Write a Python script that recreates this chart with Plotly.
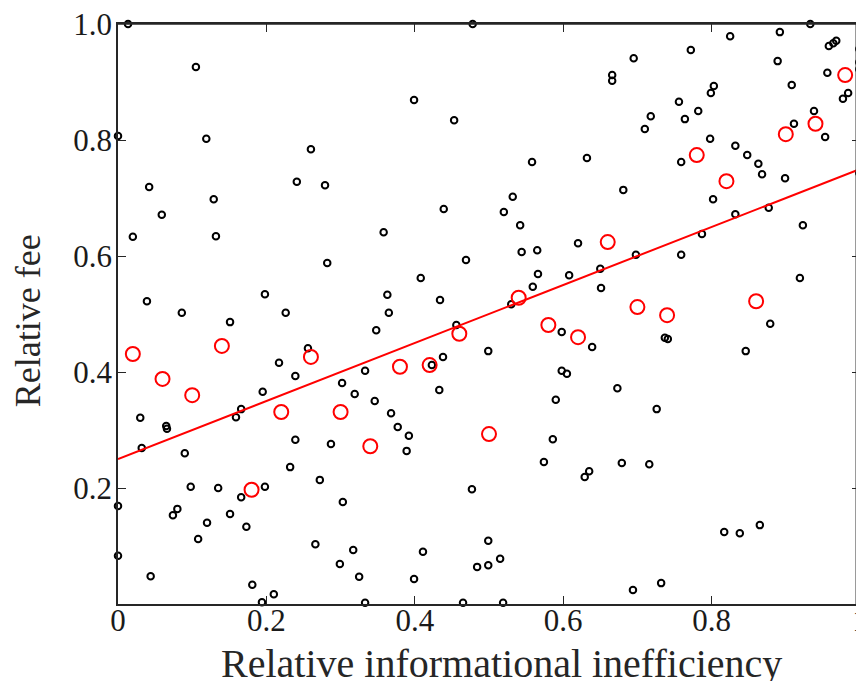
import plotly.graph_objects as go

# Individual observations (black hollow dots)
obs_x = [0.0135, 0.105, 0.0, 0.119, 0.042, 0.129, 0.241, 0.059, 0.020, 0.132,
         0.039, 0.086, 0.198, 0.226, 0.151, 0.217, 0.239, 0.195, 0.166, 0.030,
         0.065, 0.066, 0.032, 0.090, 0.159, 0.239, 0.232, 0.098, 0.135, 0.198,
         0.0, 0.080, 0.074, 0.166, 0.151, 0.120, 0.173, 0.108, 0.0, 0.044,
         0.181, 0.210, 0.194, 0.478, 0.399, 0.453, 0.260, 0.279, 0.439, 0.358,
         0.282, 0.469, 0.408, 0.363, 0.434, 0.365, 0.348, 0.456, 0.256, 0.499,
         0.438, 0.423, 0.333, 0.302, 0.319, 0.346, 0.433, 0.368, 0.377, 0.392,
         0.287, 0.389, 0.272, 0.303, 0.477, 0.266, 0.317, 0.411, 0.499, 0.299,
         0.484, 0.499, 0.325, 0.399, 0.333, 0.465, 0.695, 0.666, 0.666, 0.756,
         0.718, 0.710, 0.764, 0.558, 0.632, 0.759, 0.532, 0.681, 0.520, 0.933,
         0.825, 0.892, 0.772, 0.958, 0.964, 0.968, 0.999, 0.889, 0.999, 0.999,
         0.956, 0.908, 0.803, 0.799, 0.984, 0.977, 0.782, 0.938, 0.911, 0.798,
         0.953, 0.832, 0.848, 0.863, 0.868, 0.899, 0.999, 0.802, 0.877, 0.832,
         0.542, 0.620, 0.544, 0.565, 0.698, 0.759, 0.566, 0.608, 0.650, 0.559,
         0.651, 0.530, 0.598, 0.737, 0.741, 0.639, 0.598, 0.605, 0.673, 0.590,
         0.726, 0.923, 0.787, 0.919, 0.879, 0.846, 0.586, 0.574, 0.629, 0.635,
         0.679, 0.716, 0.515, 0.694, 0.732, 0.519, 0.817, 0.838, 0.865]
obs_y = [1.0, 0.926, 0.807, 0.802, 0.719, 0.698, 0.728, 0.671, 0.633, 0.634,
         0.522, 0.502, 0.534, 0.502, 0.486, 0.416, 0.393, 0.366, 0.336, 0.321,
         0.307, 0.302, 0.269, 0.260, 0.322, 0.283, 0.236, 0.202, 0.200, 0.202,
         0.169, 0.164, 0.153, 0.184, 0.155, 0.140, 0.133, 0.112, 0.083, 0.048,
         0.033, 0.017, 0.003, 1.0, 0.869, 0.834, 0.784, 0.722, 0.681, 0.641,
         0.588, 0.593, 0.562, 0.533, 0.524, 0.502, 0.472, 0.481, 0.441, 0.436,
         0.426, 0.412, 0.402, 0.381, 0.362, 0.350, 0.369, 0.329, 0.305, 0.290,
         0.276, 0.264, 0.214, 0.176, 0.198, 0.103, 0.093, 0.090, 0.109, 0.069,
         0.064, 0.067, 0.047, 0.043, 0.002, 0.002, 0.941, 0.912, 0.902, 0.866,
         0.841, 0.819, 0.836, 0.762, 0.769, 0.762, 0.702, 0.714, 0.676, 1.0,
         0.979, 0.986, 0.955, 0.962, 0.967, 0.971, 0.957, 0.936, 0.934, 0.922,
         0.916, 0.895, 0.893, 0.881, 0.881, 0.871, 0.850, 0.850, 0.828, 0.802,
         0.805, 0.790, 0.774, 0.759, 0.741, 0.734, 0.743, 0.698, 0.683, 0.672,
         0.653, 0.622, 0.607, 0.610, 0.602, 0.602, 0.569, 0.567, 0.578, 0.547,
         0.545, 0.517, 0.469, 0.459, 0.457, 0.443, 0.402, 0.397, 0.372, 0.352,
         0.336, 0.653, 0.638, 0.562, 0.483, 0.436, 0.284, 0.245, 0.219, 0.229,
         0.243, 0.241, 0.078, 0.024, 0.036, 0.002, 0.124, 0.122, 0.136]

# Binned means (red hollow circles)
bin_x = [0.02, 0.06, 0.10, 0.14, 0.18, 0.22, 0.26, 0.30, 0.34, 0.38, 0.42, 0.46,
         0.50, 0.54, 0.58, 0.62, 0.66, 0.70, 0.74, 0.78, 0.82, 0.86, 0.90, 0.94, 0.98]
bin_y = [0.431, 0.388, 0.360, 0.445, 0.197, 0.331, 0.426, 0.331, 0.272, 0.409,
         0.412, 0.466, 0.293, 0.528, 0.481, 0.460, 0.624, 0.512, 0.498, 0.774,
         0.729, 0.522, 0.810, 0.828, 0.912]

# Fitted line
fit_x = [0.0, 1.0]
fit_y = [0.25, 0.75]

x_ticks = [0, 0.2, 0.4, 0.6, 0.8, 1]
x_ticklabels = ["0", "0.2", "0.4", "0.6", "0.8", "1"]
y_ticks = [0.2, 0.4, 0.6, 0.8, 1.0]
y_ticklabels = ["0.2", "0.4", "0.6", "0.8", "1.0"]
x_title = "Relative informational inefficiency"
y_title = "Relative fee"

FONT = "Liberation Serif"
TXT = "#262626"

fig = go.Figure()
fig.add_trace(go.Scatter(
    x=obs_x, y=obs_y, mode="markers", cliponaxis=False,
    marker=dict(symbol="circle-open", size=6.5, color="black", line=dict(width=2, color="black")),
    showlegend=False))
fig.add_trace(go.Scatter(
    x=fit_x, y=fit_y, mode="lines", line=dict(color="#ff0000", width=2),
    showlegend=False))
fig.add_trace(go.Scatter(
    x=bin_x, y=bin_y, mode="markers", cliponaxis=False,
    marker=dict(symbol="circle-open", size=14, color="#ff0000", line=dict(width=2, color="#ff0000")),
    showlegend=False))

axis_common = dict(
    showline=True, linecolor=TXT, linewidth=1.5, mirror="allticks",
    ticks="inside", ticklen=8, tickcolor=TXT, tickwidth=1,
    showgrid=False, zeroline=False, automargin=False,
    ticklabeloverflow="allow",
    tickfont=dict(family=FONT, size=31, color="#1a1a1a"),
)
fig.update_xaxes(range=[0, 1], tickvals=x_ticks, ticktext=x_ticklabels,
                 ticklabelstandoff=-12, **axis_common)
fig.update_yaxes(range=[0, 1], tickvals=y_ticks, ticktext=y_ticklabels,
                 ticklabelstandoff=-2, **axis_common)

# Axes box (top and right edges)
fig.add_shape(type="line", xref="paper", yref="paper", x0=0, y0=1, x1=1, y1=1,
              line=dict(color=TXT, width=1.5), layer="above")
fig.add_shape(type="line", xref="paper", yref="paper", x0=0.995, y0=0, x1=0.995, y1=1,
              line=dict(color=TXT, width=1.5), layer="above")

fig.add_annotation(text=x_title, xref="paper", yref="paper", x=0.517, y=-0.102,
                   xanchor="center", yanchor="middle", showarrow=False,
                   font=dict(family=FONT, size=40, color=TXT))
fig.add_annotation(text=y_title, xref="paper", yref="paper", x=-0.121, y=0.488,
                   xanchor="center", yanchor="middle", showarrow=False, textangle=-90,
                   font=dict(family=FONT, size=36, color=TXT))

fig.update_layout(
    width=856, height=673,
    margin=dict(l=110, r=4, t=16, b=77),
    plot_bgcolor="white", paper_bgcolor="white",
    font=dict(family=FONT),
)
fig.write_html("out.html")
